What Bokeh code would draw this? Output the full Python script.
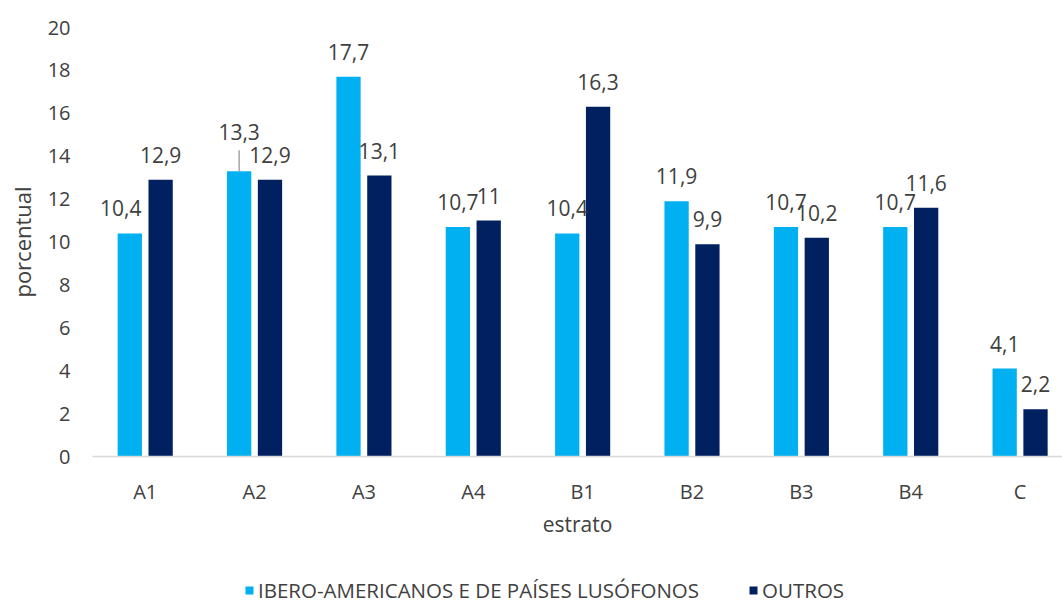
from bokeh.plotting import figure
from bokeh.layouts import column
from bokeh.models import (ColumnDataSource, Legend, LegendItem, FixedTicker, Range1d)
from bokeh.transform import dodge
from bokeh.core.properties import value
from bokeh.embed import file_html
from bokeh.resources import INLINE

# ---------------- data ----------------
categories = ["A1", "A2", "A3", "A4", "B1", "B2", "B3", "B4", "C"]
ibero = [10.4, 13.3, 17.7, 10.7, 10.4, 11.9, 10.7, 10.7, 4.1]
outros = [12.9, 12.9, 13.1, 11.0, 16.3, 9.9, 10.2, 11.6, 2.2]
series_names = ["IBERO-AMERICANOS E DE PAÍSES LUSÓFONOS", "OUTROS"]
y_ticks = [0, 2, 4, 6, 8, 10, 12, 14, 16, 18, 20]
y_title = "porcentual"
x_title = "estrato"

# ---------------- style ----------------
LIGHT = "#00B0F0"
DARK = "#002060"
TEXT = "#404040"
FONT = "Open Sans"
W = 1062
H_MAIN, H_LEG = 575, 30
LEFT, RIGHT, TOP = 92, 0, 27
FRAME_H = 429
BOTTOM = H_MAIN - TOP - FRAME_H
CAT_PX = 109.36
X_START = 0.018
frame_w = W - LEFT - RIGHT
px_per_unit = FRAME_H / 20.0
OFF = 0.141
BW = 0.222


def fmt(v):
    return f"{v:g}".replace(".", ",")


xc = [i + 0.5 for i in range(len(categories))]
src = ColumnDataSource(dict(
    xc=xc, cat=categories, ibero=ibero, outros=outros,
    ibero_lbl=[fmt(v) for v in ibero], outros_lbl=[fmt(v) for v in outros],
))

p = figure(width=W, height=H_MAIN, output_backend="svg", toolbar_location=None,
           x_range=Range1d(X_START, X_START + frame_w / CAT_PX), y_range=Range1d(0, 20),
           min_border_left=LEFT, min_border_right=RIGHT,
           min_border_top=TOP, min_border_bottom=BOTTOM)
p.outline_line_color = None
p.grid.visible = False
p.background_fill_color = "white"
p.border_fill_color = "white"

r1 = p.vbar(x=dodge("xc", -OFF), top="ibero", width=BW, source=src,
            fill_color=LIGHT, line_color=None)
r2 = p.vbar(x=dodge("xc", OFF), top="outros", width=BW, source=src,
            fill_color=DARK, line_color=None)

# data labels (offsets are layout tweaks, like Excel's manual label moves)
dx_light = [0] * len(categories)
dy_light = [-25] * len(categories)
dx_light[0] = -9
dy_light[1] = -39
lbl_src_l = ColumnDataSource(dict(x=[v - OFF for v in xc], y=ibero,
                                  t=[fmt(v) for v in ibero], dx=dx_light, dy=dy_light))
p.text(x="x", y="y", text="t", x_offset="dx", y_offset="dy", source=lbl_src_l,
       text_align="center", text_baseline="middle", text_font=value(FONT),
       text_font_size="21px", text_color=TEXT)
p.text(x=dodge("xc", OFF), y="outros", text="outros_lbl", y_offset=-25, source=src,
       text_align="center", text_baseline="middle", text_font=value(FONT),
       text_font_size="21px", text_color=TEXT)

# leader line for the moved A2 label
lead_len = 21 / px_per_unit
p.segment(x0=[xc[1] - OFF], y0=[ibero[1]], x1=[xc[1] - OFF], y1=[ibero[1] + lead_len],
          line_color="#A6A6A6", line_width=1.5)

# axes
xa = p.xaxis[0]
xa.ticker = FixedTicker(ticks=xc)
xa.major_label_overrides = {x: c for x, c in zip(xc, categories)}
xa.axis_line_color = "#D9D9D9"
xa.axis_line_width = 1.5
xa.major_tick_line_color = None
xa.minor_tick_line_color = None
xa.major_label_standoff = 15
xa.major_label_text_font = FONT
xa.major_label_text_font_size = "20px"
xa.major_label_text_color = TEXT
xa.axis_label = x_title
xa.axis_label_standoff = 2
xa.axis_label_text_font = FONT
xa.axis_label_text_font_size = "21px"
xa.axis_label_text_font_style = "normal"
xa.axis_label_text_color = TEXT

ya = p.yaxis[0]
ya.ticker = FixedTicker(ticks=y_ticks)
ya.axis_line_color = None
ya.major_tick_line_color = None
ya.minor_tick_line_color = None
ya.major_label_standoff = 16
ya.major_label_text_font = FONT
ya.major_label_text_font_size = "20px"
ya.major_label_text_color = TEXT
ya.axis_label = y_title
ya.axis_label_standoff = 8
ya.axis_label_text_font = FONT
ya.axis_label_text_font_size = "22px"
ya.axis_label_text_font_style = "normal"
ya.axis_label_text_color = TEXT

# ---------------- legend strip ----------------
p2 = figure(width=W, height=H_LEG, output_backend="svg", toolbar_location=None,
            x_range=Range1d(0, 1), y_range=Range1d(0, 1), min_border=0)
p2.axis.visible = False
p2.grid.visible = False
p2.outline_line_color = None
# zero-height placeholder bars that only carry the legend swatch styles
d1 = p2.vbar(x=[0.5], top=[0], width=0.01, fill_color=LIGHT, line_color=None)
d2 = p2.vbar(x=[0.5], top=[0], width=0.01, fill_color=DARK, line_color=None)
legend = Legend(items=[LegendItem(label=series_names[0], renderers=[d1]),
                       LegendItem(label=series_names[1], renderers=[d2])],
                orientation="horizontal", location=(152, 1),
                padding=0, margin=0, spacing=49, label_standoff=4,
                glyph_width=10, glyph_height=10,
                label_text_font=FONT, label_text_font_size="20.5px",
                label_text_color=TEXT, border_line_color=None,
                background_fill_alpha=0)
p2.add_layout(legend)

layout = column(p, p2, spacing=0)
open("out.html", "w").write(file_html(layout, INLINE))
